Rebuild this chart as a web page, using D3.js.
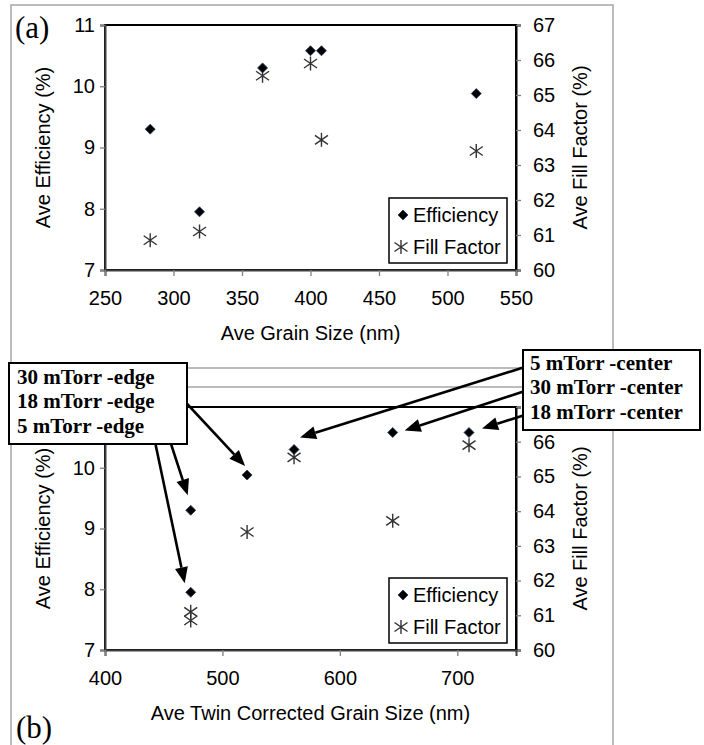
<!DOCTYPE html>
<html><head><meta charset="utf-8">
<script src="https://cdn.jsdelivr.net/npm/d3@7"></script>
<style>body{margin:0;background:#fff}svg{display:block}</style>
</head><body>
<svg id="c" width="704" height="745"></svg>
<script>
// ---- data ----
const grainSize   = [283, 319, 365, 400, 408, 521];
const twinSize    = [473, 473, 561, 710, 645, 521];
const efficiency  = [9.30, 7.95, 10.30, 10.58, 10.58, 9.88];
const fillFactor  = [60.85, 61.10, 65.55, 65.90, 63.72, 63.40];
const xTicksTop   = [250, 300, 350, 400, 450, 500, 550];
const xTicksBot   = [400, 500, 600, 700];
const effTicks    = [7, 8, 9, 10, 11];
const ffTicks     = [60, 61, 62, 63, 64, 65, 66, 67];
const seriesNames = ["Efficiency", "Fill Factor"];
const edgeLabels   = ["30 mTorr -edge", "18 mTorr -edge", "5 mTorr -edge"];
const edgeTargets  = [5, 0, 1];
const centerLabels = ["5 mTorr -center", "30 mTorr -center", "18 mTorr -center"];
const centerTargets= [2, 4, 3];

const svg = d3.select("#c");
const SANS = "'Liberation Sans', Arial, sans-serif";
const SERIF = "'Liberation Serif', 'Times New Roman', serif";

// outer gray frames
const frame = svg.append("g").attr("stroke", "#a6a6a6").attr("stroke-width", 1.5).attr("fill", "none");
frame.append("path").attr("d", "M11,745 V5 H613 V745");
frame.append("line").attr("x1", 11).attr("x2", 613).attr("y1", 368).attr("y2", 368);
frame.append("line").attr("x1", 11).attr("x2", 613).attr("y1", 387).attr("y2", 387);

const diamond = "M0,-5L5,0L0,5L-5,0Z";
const star = "M-6.5,-4.5L6.5,4.5M-6.5,4.5L6.5,-4.5M0,-7L0,7";

function panel(top, bottom, xDomain, xTicks, xVals, xTitle, legendTop, hideTopLabels) {
  const L = 105, R = 516;
  const x = d3.scaleLinear().domain(xDomain).range([L, R]);
  const yL = d3.scaleLinear().domain([7, 11]).range([bottom, top]);
  const yR = d3.scaleLinear().domain([60, 67]).range([bottom, top]);
  const g = svg.append("g");
  g.append("rect").attr("x", L).attr("y", top).attr("width", R - L).attr("height", bottom - top)
    .attr("fill", "#fff").attr("stroke", "#000").attr("stroke-width", 2);

  const fmtL = d => (hideTopLabels && d === 11) ? "" : d3.format("d")(d);
  const fmtR = d => (hideTopLabels && d === 67) ? "" : d3.format("d")(d);
  const axL = g.append("g").attr("transform", `translate(${L},0)`)
    .call(d3.axisLeft(yL).tickValues(effTicks).tickFormat(fmtL).tickSize(5).tickPadding(5));
  const axR = g.append("g").attr("transform", `translate(${R},0)`)
    .call(d3.axisRight(yR).tickValues(ffTicks).tickFormat(fmtR).tickSize(5).tickPadding(12));
  const axB = g.append("g").attr("transform", `translate(0,${bottom})`)
    .call(d3.axisBottom(x).tickValues(xTicks).tickFormat(d3.format("d")).tickSize(6).tickPadding(15));
  [axL, axR, axB].forEach(a => {
    a.select(".domain").attr("stroke", "#404040").attr("stroke-width", 2);
    a.selectAll(".tick line").attr("stroke", "#808080").attr("stroke-width", 1.3);
    a.selectAll(".tick text").attr("font-family", SANS).attr("font-size", 20).attr("fill", "#000");
  });
  axR.select(".domain").attr("stroke", "#000");

  // titles
  g.append("text").attr("x", (L + R) / 2).attr("y", bottom + 70).attr("text-anchor", "middle")
    .attr("font-family", SANS).attr("font-size", 20).attr("fill", "#000").text(xTitle);
  g.append("text").attr("transform", `translate(50,${(top + bottom) / 2}) rotate(-90)`).attr("text-anchor", "middle")
    .attr("font-family", SANS).attr("font-size", 20).attr("fill", "#000").text("Ave Efficiency (%)");
  g.append("text").attr("transform", `translate(587,${(top + bottom) / 2}) rotate(-90)`).attr("text-anchor", "middle")
    .attr("font-family", SANS).attr("font-size", 20).attr("fill", "#000").text("Ave Fill Factor (%)");

  // points
  g.selectAll(".ff").data(d3.range(fillFactor.length)).join("path")
    .attr("transform", i => `translate(${x(xVals[i])},${yR(fillFactor[i])})`)
    .attr("d", star).attr("stroke", "#333").attr("stroke-width", 1.4).attr("fill", "none");
  g.selectAll(".eff").data(d3.range(efficiency.length)).join("path")
    .attr("transform", i => `translate(${x(xVals[i])},${yL(efficiency[i])})`)
    .attr("d", diamond).attr("fill", "#000").attr("stroke", "#1f3a5f").attr("stroke-width", 0.8);

  // legend
  const lg = g.append("g").attr("transform", `translate(389,${legendTop})`);
  lg.append("rect").attr("width", 118).attr("height", 65).attr("fill", "#fff").attr("stroke", "#000").attr("stroke-width", 1.5);
  seriesNames.forEach((n, i) => {
    const yy = 17 + i * 32;
    lg.append("path").attr("transform", `translate(${i ? 12 : 14},${yy})`).attr("d", i ? star : diamond)
      .attr("fill", i ? "none" : "#000").attr("stroke", i ? "#333" : "#1f3a5f").attr("stroke-width", i ? 1.4 : 0.8);
    lg.append("text").attr("x", 24).attr("y", yy + 7).attr("font-family", SANS).attr("font-size", 20)
      .attr("fill", "#000").text(n);
  });
  return {x, yL, yR};
}

const A = panel(25, 270, [250, 550], xTicksTop, grainSize, "Ave Grain Size (nm)", 198, false);
const B = panel(407, 650, [400, 750], xTicksBot, twinSize, "Ave Twin Corrected Grain Size (nm)", 578, true);

// panel letters
svg.append("text").attr("x", 15).attr("y", 38).attr("font-family", SERIF).attr("font-size", 31).attr("fill", "#000").text("(a)");
svg.append("text").attr("x", 16).attr("y", 738).attr("font-family", SERIF).attr("font-size", 31).attr("fill", "#000").text("(b)");

// annotations (arrows)
function arrow(x1, y1, x2, y2) {
  const ang = Math.atan2(y2 - y1, x2 - x1), len = 16, hw = 6.5;
  const bx = x2 - len * Math.cos(ang), by = y2 - len * Math.sin(ang);
  svg.append("line").attr("x1", x1).attr("y1", y1).attr("x2", bx).attr("y2", by)
    .attr("stroke", "#000").attr("stroke-width", 2.6);
  const px = -Math.sin(ang) * hw, py = Math.cos(ang) * hw;
  svg.append("path").attr("d", `M${x2},${y2}L${bx + px},${by + py}L${bx - px},${by - py}Z`).attr("fill", "#000");
}
const edgeTail = [[163, 378], [159, 407], [154, 437]];
const edgeOff  = [[-2, -9], [-3, -15], [-6, -9]];
edgeTargets.forEach((t, i) => {
  arrow(edgeTail[i][0], edgeTail[i][1], B.x(twinSize[t]) + edgeOff[i][0], B.yL(efficiency[t]) + edgeOff[i][1]);
});
const centerTail = [[528, 366], [528, 390], [528, 414]];
const centerOff  = [[6, -12], [12, -2], [13, -4]];
centerTargets.forEach((t, i) => {
  arrow(centerTail[i][0], centerTail[i][1], B.x(twinSize[t]) + centerOff[i][0], B.yL(efficiency[t]) + centerOff[i][1]);
});

// label boxes
function labelBox(bx, by, w, h, tx, ty0, lines) {
  const g = svg.append("g");
  g.append("rect").attr("x", bx).attr("y", by).attr("width", w).attr("height", h)
    .attr("fill", "#fff").attr("stroke", "#000").attr("stroke-width", 2);
  lines.forEach((s, i) => g.append("text").attr("x", tx).attr("y", ty0 + i * 24.3)
    .attr("font-family", SERIF).attr("font-weight", "bold").attr("font-size", 21).attr("fill", "#000").text(s));
}
labelBox(9, 363, 178, 81, 17, 384, edgeLabels);
labelBox(523, 350, 177, 80, 530, 370, centerLabels);
</script>
</body></html>
